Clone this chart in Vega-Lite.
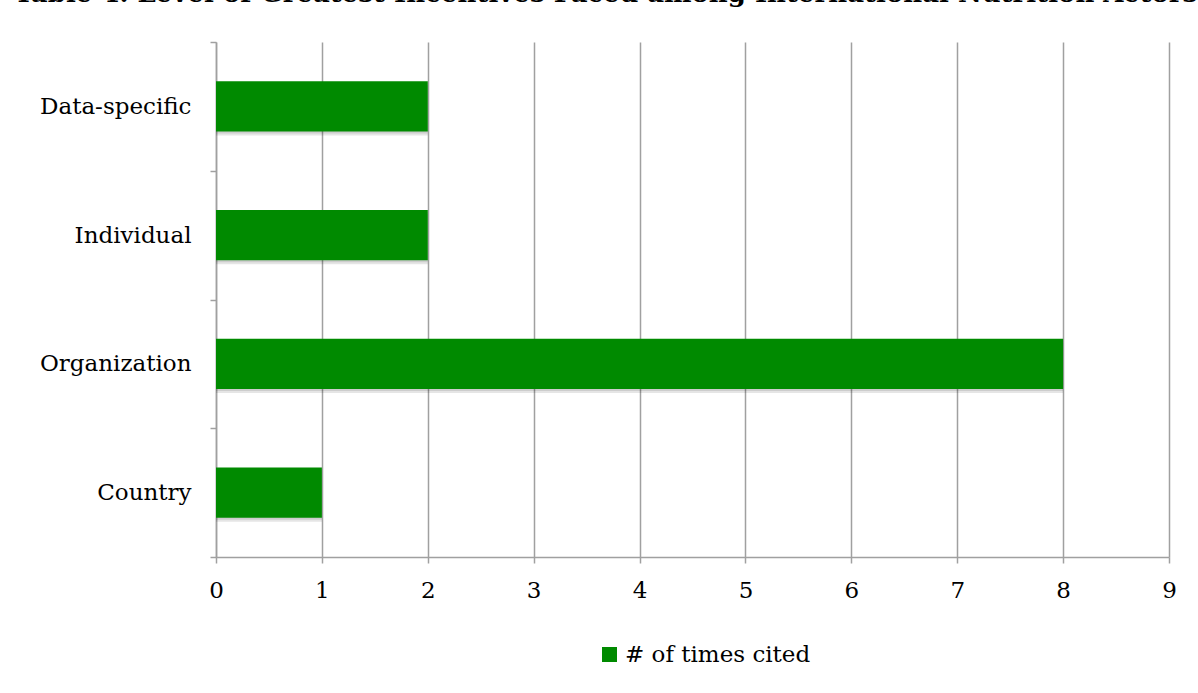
{
  "$schema": "https://vega.github.io/schema/vega-lite/v6.json",
  "autosize": {"type": "none"},
  "width": 953,
  "height": 515,
  "padding": {"left": 216, "top": 42, "right": 29, "bottom": 136},
  "background": "white",
  "title": {
    "text": "Table 4. Level of Greatest Incentives Faced among International Nutrition Actors",
    "anchor": "start",
    "frame": "group",
    "dx": -202,
    "offset": 3,
    "baseline": "alphabetic",
    "font": "DejaVu Serif",
    "fontSize": 26,
    "fontWeight": "bold",
    "color": "black"
  },
  "data": {
    "values": [
      {"level": "Data-specific", "count": 2, "series": "# of times cited"},
      {"level": "Individual", "count": 2, "series": "# of times cited"},
      {"level": "Organization", "count": 8, "series": "# of times cited"},
      {"level": "Country", "count": 1, "series": "# of times cited"}
    ]
  },
  "config": {
    "view": {"stroke": null},
    "font": "DejaVu Serif",
    "axis": {
      "labelFont": "DejaVu Serif",
      "labelFontSize": 23,
      "labelColor": "black",
      "domainColor": "#a0a0a0",
      "domainWidth": 1.5,
      "tickColor": "#a0a0a0",
      "tickWidth": 1.5,
      "tickSize": 6,
      "gridColor": "#a0a0a0",
      "gridWidth": 1.5,
      "title": null
    }
  },
  "encoding": {
    "y": {
      "field": "level",
      "type": "nominal",
      "sort": ["Data-specific", "Individual", "Organization", "Country"],
      "scale": {"paddingInner": 0, "paddingOuter": 0},
      "axis": {"tickBand": "extent", "labelPadding": 19, "grid": false, "title": null}
    },
    "x": {
      "field": "count",
      "type": "quantitative",
      "scale": {"domain": [0, 9], "nice": false},
      "axis": {"values": [0, 1, 2, 3, 4, 5, 6, 7, 8, 9], "grid": true, "labelFlush": false, "labelPadding": 16, "title": null, "format": "d"}
    }
  },
  "layer": [
    {
      "mark": {"type": "bar", "color": "black", "opacity": 0.1, "height": {"band": 0.39}, "yOffset": 4, "x2Offset": 3}
    },
    {
      "mark": {"type": "bar", "color": "black", "opacity": 0.1, "height": {"band": 0.39}, "yOffset": 2, "x2Offset": 1.5}
    },
    {
      "mark": {"type": "bar", "opacity": 1, "height": {"band": 0.39}},
      "encoding": {
        "color": {
          "field": "series",
          "type": "nominal",
          "scale": {"range": ["#008a00"]},
          "legend": {
            "title": null,
            "orient": "none",
            "legendX": 382,
            "legendY": 601,
            "padding": 0,
            "symbolType": "square",
            "symbolSize": 225,
            "symbolStrokeWidth": 0,
            "labelFont": "DejaVu Serif",
            "labelFontSize": 23,
            "labelLimit": 400,
            "labelColor": "black",
            "labelOffset": 4
          }
        }
      }
    }
  ]
}
